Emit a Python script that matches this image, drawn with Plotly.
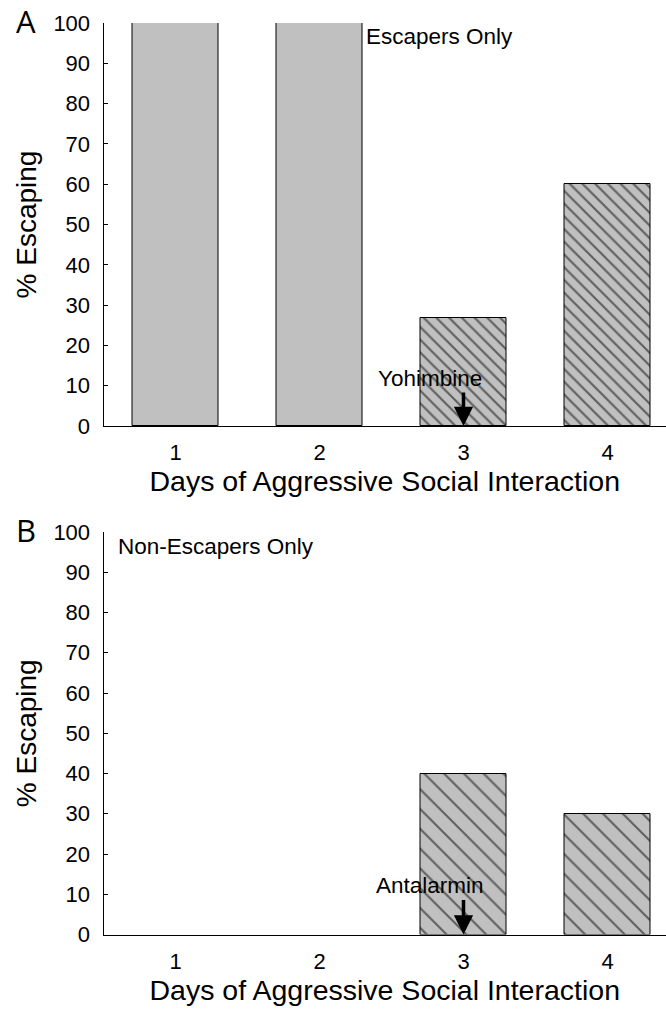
import plotly.graph_objects as go

# Percentage of animals escaping on each day of aggressive social interaction
days = [1, 2, 3, 4]
day_labels = ["1", "2", "3", "4"]
escapers_pct = [100, 100, 26.7, 60]        # Panel A: escapers, yohimbine on day 3
non_escapers_pct = [0, 0, 40, 30]          # Panel B: non-escapers, antalarmin on day 3
drug_days = [False, False, True, True]     # hatched bars: days following drug treatment

W, H = 666, 1009
FONT = "Liberation Sans, Arial, sans-serif"
BAR_FILL = "#c0c0c0"


def px_x(x):
    return x / W


def px_y(y):
    return 1 - y / H


def bar_trace(values, xaxis, yaxis, hatch_size, solidity):
    shapes = ["\\" if d else "" for d in drug_days]
    # zero-height bars get no outline so they vanish into the axis line
    outline = [1 if v > 0 else 0 for v in values]
    return go.Bar(
        x=days, y=values, xaxis=xaxis, yaxis=yaxis, width=0.6,
        marker=dict(
            color=BAR_FILL,
            line=dict(color="black", width=outline),
            pattern=dict(shape=shapes, fgcolor="black", bgcolor=BAR_FILL,
                         size=hatch_size, solidity=solidity, fillmode="overlay"),
        ),
        showlegend=False, hoverinfo="skip",
    )


fig = go.Figure()
fig.add_trace(bar_trace(escapers_pct, "x", "y", 9, 0.24))
fig.add_trace(bar_trace(non_escapers_pct, "x2", "y2", 14, 0.15))

x_range = [0.5, 1 + (W - 175.5) / 144]
xaxis_style = dict(
    range=x_range, domain=[px_x(103.5), 1], tickvals=days, ticktext=day_labels,
    showline=True, linecolor="black", linewidth=1, ticks="", showgrid=False,
    zeroline=False, automargin=False,
    tickfont=dict(family=FONT, size=22, color="black"), ticklabelstandoff=7,
    title=dict(text="Days of Aggressive Social Interaction",
               font=dict(family=FONT, size=28.5, color="black"), standoff=0),
)
yaxis_style = dict(
    range=[0, 100], tickvals=list(range(0, 101, 10)), showline=True,
    linecolor="black", linewidth=1, ticks="inside", ticklen=4, tickcolor="black",
    showgrid=False, zeroline=False, automargin=False,
    tickfont=dict(family=FONT, size=22, color="black"), ticklabelstandoff=8,
    title=dict(text="% Escaping", font=dict(family=FONT, size=28, color="black"),
               standoff=8),
)

fig.update_layout(
    width=W, height=H, margin=dict(l=0, r=0, t=0, b=0, autoexpand=False),
    paper_bgcolor="white", plot_bgcolor="white", bargap=0,
    xaxis=dict(xaxis_style, anchor="y"),
    yaxis=dict(yaxis_style, domain=[px_y(426), px_y(23)], anchor="x"),
    xaxis2=dict(xaxis_style, anchor="y2"),
    yaxis2=dict(yaxis_style, domain=[px_y(934.5), px_y(532)], anchor="x2"),
)

text_font = dict(family=FONT, size=22.5, color="black")
letter_font = dict(family="Open Sans, sans-serif", size=31, color="black")

annotations = [
    dict(text="A", xref="paper", yref="paper", x=px_x(26), y=px_y(21),
         xanchor="center", yanchor="middle", showarrow=False, font=letter_font),
    dict(text="B", xref="paper", yref="paper", x=px_x(26), y=px_y(530),
         xanchor="center", yanchor="middle", showarrow=False, font=letter_font),
    dict(text="Escapers Only", xref="paper", yref="paper", x=px_x(364), y=px_y(37),
         xanchor="left", yanchor="middle", showarrow=False, font=text_font),
    dict(text="Non-Escapers Only", xref="paper", yref="paper", x=px_x(116), y=px_y(546),
         xanchor="left", yanchor="middle", showarrow=False, font=text_font),
    # drug labels and arrows marking the day of treatment
    dict(text="Yohimbine", xref="x", yref="y", x=2.77, y=11.9,
         xanchor="center", yanchor="middle", showarrow=False, font=text_font),
    dict(text="", xref="x", yref="y", x=3, y=0, ax=0, ay=-35, showarrow=True,
         arrowhead=2, arrowsize=1.1, arrowwidth=3.5, arrowcolor="black", standoff=0),
    dict(text="Antalarmin", xref="x2", yref="y2", x=2.77, y=12.1,
         xanchor="center", yanchor="middle", showarrow=False, font=text_font),
    dict(text="", xref="x2", yref="y2", x=3, y=0, ax=0, ay=-36, showarrow=True,
         arrowhead=2, arrowsize=1.1, arrowwidth=3.5, arrowcolor="black", standoff=0),
]
fig.update_layout(annotations=annotations)

fig.write_html("out.html")
